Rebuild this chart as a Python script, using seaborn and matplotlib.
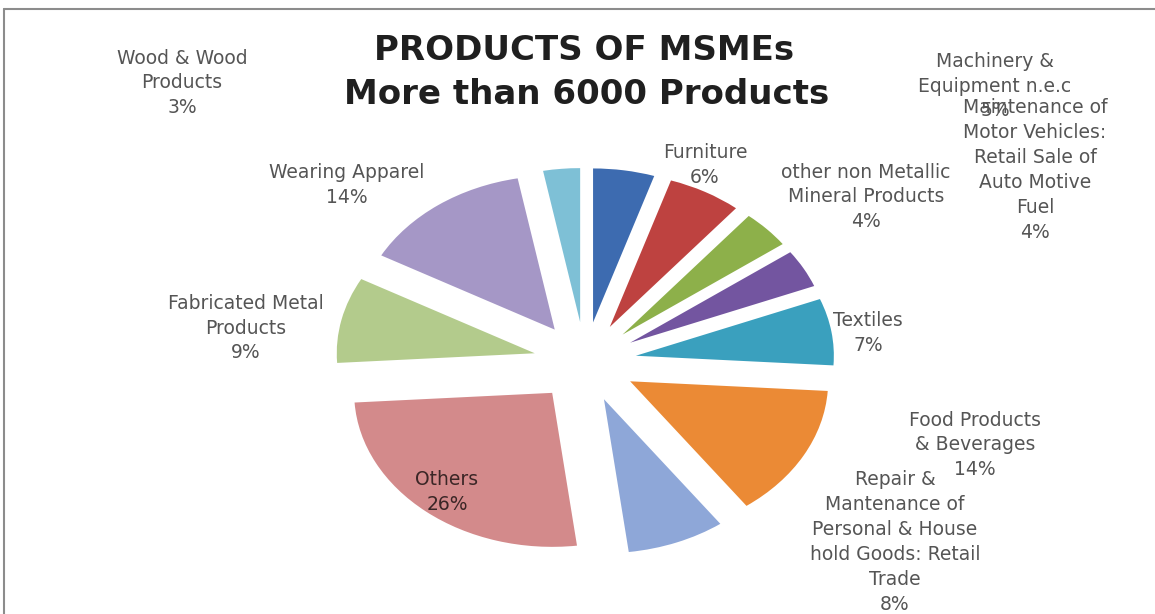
import matplotlib
matplotlib.use("Agg")
import matplotlib.pyplot as plt
from matplotlib.lines import Line2D
import seaborn as sns

categories = [
    "Machinery &\nEquipment n.e.c",
    "Furniture",
    "other non Metallic\nMineral Products",
    "Maintenance of\nMotor Vehicles:\nRetail Sale of\nAuto Motive\nFuel",
    "Textiles",
    "Food Products\n& Beverages",
    "Repair &\nMantenance of\nPersonal & House\nhold Goods: Retail\nTrade",
    "Others",
    "Fabricated Metal\nProducts",
    "Wearing Apparel",
    "Wood & Wood\nProducts",
]
values = [5, 6, 4, 4, 7, 14, 8, 26, 9, 14, 3]
colors = ["#3D6BB0", "#BE4240", "#8DB04A", "#7355A0", "#3AA0BE", "#EB8A35",
          "#8EA7D8", "#D38A8B", "#B3CB8C", "#A597C6", "#7EC0D6"]
title_lines = ["PRODUCTS OF MSMEs", "More than 6000 Products"]

# label positions in figure pixels (x, y from top)
label_pos = [(995, 86), (705, 165), (866, 197), (1035, 170), (868, 333),
             (975, 445), (895, 542), (447, 492), (246, 328), (347, 185), (182, 83)]

sns.set_style("white")
plt.rcParams['font.family'] = ['DejaVu Sans']

W, H = 1155, 614
fig = plt.figure(figsize=(W / 100, H / 100), dpi=100)
ax = fig.add_axes([0, 0, 1, 1])

pal = sns.color_palette(colors)
ax.pie(values, colors=pal, startangle=90, counterclock=False,
       explode=[0.26] * len(values), radius=1.0,
       wedgeprops=dict(linewidth=0))

cx, cy = 585, 362
rx, ry = 198, 154
ax.set_aspect('auto')
ax.set_xlim(-cx / rx, (W - cx) / rx)
ax.set_ylim(-(H - cy) / ry, cy / ry)
ax.axis('off')

for lab, v, (px, py) in zip(categories, values, label_pos):
    col = "#3b2626" if lab == "Others" else "#555555"
    fig.text(px / W, 1 - py / H, f"{lab}\n{v}%", ha='center', va='center',
             fontsize=13.5, color=col, linespacing=1.39)

fig.text(584 / W, 1 - 51 / H, title_lines[0], ha='center', va='center',
         fontsize=24.5, fontweight='bold', color='#1f1f1f')
fig.text(587 / W, 1 - 95 / H, title_lines[1], ha='center', va='center',
         fontsize=24.5, fontweight='bold', color='#1f1f1f')

fig.add_artist(Line2D([4 / W, 1], [1 - 9 / H, 1 - 9 / H], color='#8c8c8c', lw=1.5))
fig.add_artist(Line2D([4 / W, 4 / W], [0, 1 - 9 / H], color='#8c8c8c', lw=1.5))

fig.savefig("out.png", dpi=100)
